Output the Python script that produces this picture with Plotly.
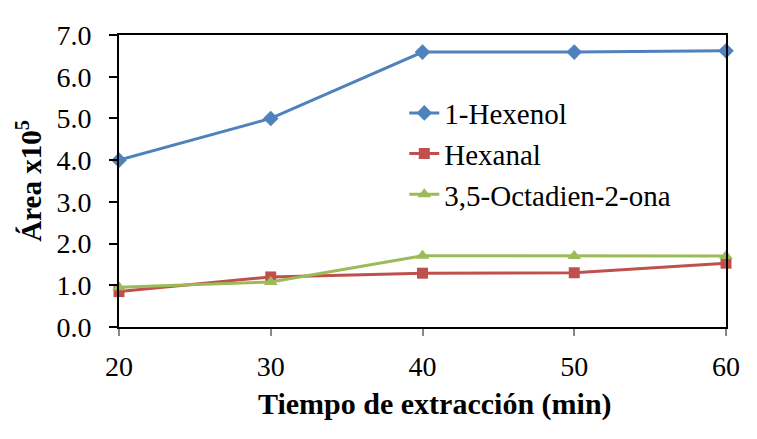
import plotly.graph_objects as go

tiempo = [20, 30, 40, 50, 60]
hexenol = [4.0, 5.0, 6.59, 6.59, 6.62]
hexanal = [0.85, 1.2, 1.29, 1.3, 1.53]
octadienona = [0.95, 1.08, 1.71, 1.7, 1.7]

series = [
    ("1-Hexenol", hexenol, "#4F81BD", "diamond", 12),
    ("Hexanal", hexanal, "#C0504D", "square", 11),
    ("3,5-Octadien-2-ona", octadienona, "#9BBB59", "triangle-up", 12),
]

serif = "Liberation Serif, Times New Roman, serif"

fig = go.Figure()
for name, vals, color, symbol, size in series:
    fig.add_trace(go.Scatter(
        x=tiempo, y=vals, name=name, mode="lines+markers",
        legendgroup=name,
        line=dict(color=color, width=3),
        marker=dict(symbol=symbol, size=size, color=color),
        cliponaxis=False,
    ))

# the page puts the figure 8px in from the top left corner
fig.update_layout(
    width=757, height=439,
    margin=dict(l=111, r=39, t=27, b=120),
    paper_bgcolor="white", plot_bgcolor="white",
    font=dict(family=serif, size=28, color="black"),
    showlegend=True,
    legend=dict(
        x=0.47, y=0.82, xanchor="left", yanchor="top",
        bgcolor="rgba(0,0,0,0)", font=dict(family=serif, size=29),
        tracegroupgap=0,
    ),
)
# x title sits a bit right of the plot centre in the original
fig.add_annotation(
    text="<b>Tiempo de extracción (min)</b>",
    xref="paper", yref="paper", x=0.52, y=-0.265,
    xanchor="center", yanchor="middle", showarrow=False,
    font=dict(family=serif, size=30),
)
fig.update_xaxes(
    range=[20, 60], tickvals=tiempo,
    tickfont=dict(family=serif, size=28),
    showline=True, linecolor="black", linewidth=2, mirror=True,
    ticks="outside", ticklen=7, tickcolor="#888888", tickwidth=1.5,
    ticklabelstandoff=6,
    showgrid=False, zeroline=False,
)
fig.update_yaxes(
    range=[0, 7], dtick=1, tickformat=".1f",
    tickfont=dict(family=serif, size=28),
    showline=True, linecolor="black", linewidth=2, mirror=True,
    ticks="outside", ticklen=8, tickcolor="black", tickwidth=2,
    ticklabelstandoff=12,
    showgrid=False, zeroline=False,
    title=dict(text="<b>Área x10<sup>5</sup></b>", standoff=6,
               font=dict(family=serif, size=29)),
)

fig.write_html("out.html")
